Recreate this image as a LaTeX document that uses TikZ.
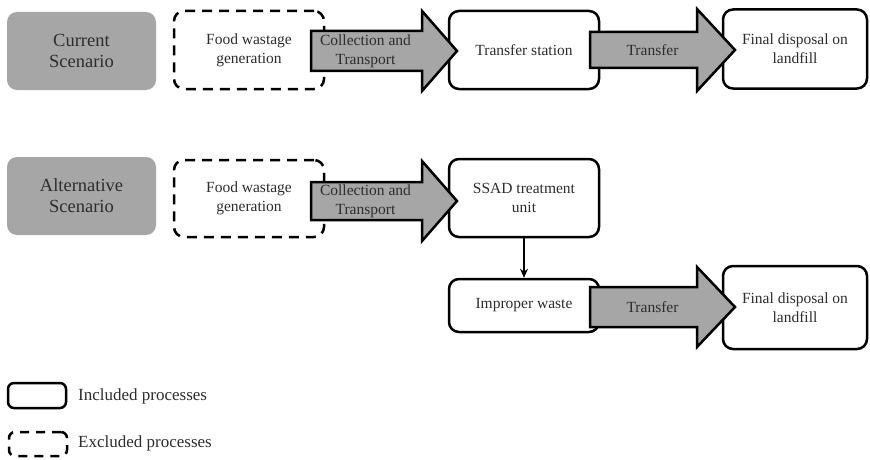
\documentclass[tikz,border=0pt]{standalone}
\usepackage{fontspec}
\setmainfont{Liberation Serif}
\usetikzlibrary{arrows.meta}
\definecolor{boxgray}{RGB}{166,166,166}
\definecolor{txt}{RGB}{45,45,45}

% wide block arrow: #1 name, #2 start x, #3 head base x, #4 tip x, #5 centre y, #6 half body, #7 half head
\newcommand\blockarrow[7]{%
  \draw[fatarrow] (#2,#5-#6) -- (#3,#5-#6) -- (#3,#5-#7) -- (#4,#5)
    -- (#3,#5+#7) -- (#3,#5+#6) -- (#2,#5+#6) -- cycle;
  \coordinate (#1) at ({(#2+#3)/2},#5);
}

\begin{document}
\begin{tikzpicture}[x=1pt,y=-1pt,
  proc/.style={draw=black, line width=2.5pt, rounded corners=10pt, fill=white,
    text=txt, align=center, inner sep=0pt, font=\fontsize{15.5}{19}\selectfont},
  excl/.style={proc, dash pattern=on 10pt off 7pt},
  scen/.style={fill=boxgray, rounded corners=10pt, text=txt, align=center,
    inner sep=0pt, font=\fontsize{18.5}{21}\selectfont},
  fatarrow/.style={draw=black, line width=2.5pt, fill=boxgray, line join=miter},
  lbl/.style={text=txt, align=center, font=\fontsize{15.5}{19}\selectfont},
  legtext/.style={text=txt, anchor=west, inner sep=0pt, font=\fontsize{17}{20}\selectfont}
]
\useasboundingbox (0,0) rectangle (870,460);

% scenario labels
\node[scen, minimum width=149pt, minimum height=78pt] (cur) at (81.5,51) {Current\\Scenario};
\node[scen, minimum width=149pt, minimum height=78pt] (alt) at (81.5,196) {Alternative\\Scenario};

% current scenario chain
\node[excl, minimum width=150pt, minimum height=78pt] (food1) at (249,50) {Food wastage\\generation};
\node[proc, minimum width=150pt, minimum height=78pt] (station) at (524,50) {Transfer station};
\node[proc, minimum width=144pt, minimum height=79pt] (final1) at (795,49) {Final disposal on\\landfill};

% alternative scenario chain
\node[excl, minimum width=150pt, minimum height=77pt] (food2) at (249,198.5) {Food wastage\\generation};
\node[proc, minimum width=150pt, minimum height=78pt] (ssad) at (524,198) {SSAD treatment\\unit};
\node[proc, minimum width=150pt, minimum height=53pt] (improper) at (524,305.5) {Improper waste};
\node[proc, minimum width=144pt, minimum height=83pt] (final2) at (795,307.5) {Final disposal on\\landfill};

% block arrows between the stages
\blockarrow{a1}{311}{422}{457}{51}{20}{40}
\blockarrow{a2}{590}{697}{735}{50}{18}{41}
\blockarrow{a3}{311}{422}{457}{201}{19}{40}
\blockarrow{a4}{590}{697}{735}{307}{20}{40}

\node[lbl] (l1) at ([xshift=-1pt]a1) {Collection and\\Transport};
\node[lbl] (l2) at ([xshift=9pt]a2) {Transfer};
\node[lbl] (l3) at ([xshift=-1pt]a3) {Collection and\\Transport};
\node[lbl] (l4) at ([xshift=9pt]a4) {Transfer};

% SSAD rejects go to improper waste
\draw[line width=1.8pt, -{Stealth[length=9pt,width=8pt]}] (ssad.south) -- (improper.north);

% legend
\node[proc, rounded corners=6pt, minimum width=58pt, minimum height=25pt] (legin) at (37,395.5) {};
\node[excl, rounded corners=6pt, dash pattern=on 9pt off 7pt, minimum width=58pt, minimum height=24pt] (legex) at (38,444) {};
\node[legtext] (legintext) at (78,396) {Included processes};
\node[legtext] (legextext) at (78,443) {Excluded processes};
\end{tikzpicture}
\end{document}
